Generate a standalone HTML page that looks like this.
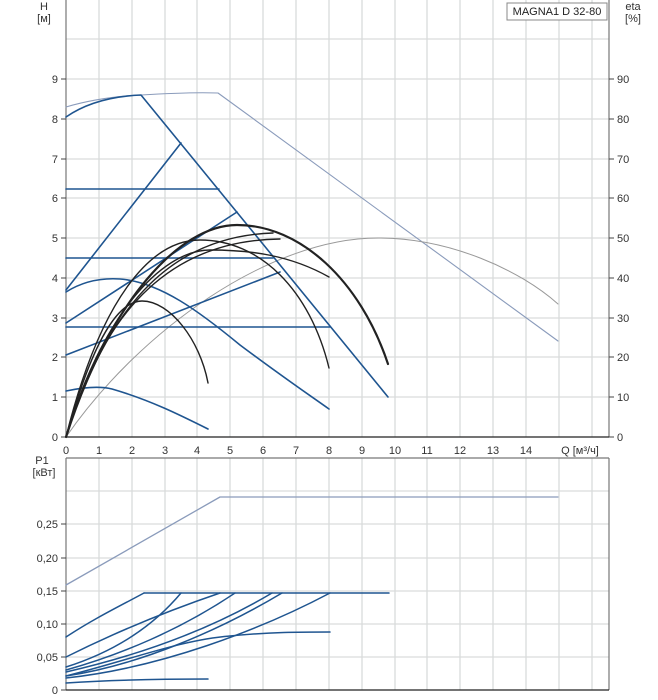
<!DOCTYPE html>
<html><head><meta charset="utf-8"><style>
body{margin:0;background:#fff}
svg{display:block;font-family:"Liberation Sans","DejaVu Sans",sans-serif}
</style></head><body>
<svg width="658" height="700" viewBox="0 0 658 700" xmlns="http://www.w3.org/2000/svg">
<g stroke="#d9dcdc" stroke-width="1.3" fill="none">
<!-- top grid verticals -->
<path d="M99,0V437M132,0V437M165,0V437M197,0V437M230,0V437M263,0V437M296,0V437M329,0V437M362,0V437M395,0V437M427,0V437M460,0V437M493,0V437M526,0V437M559,0V437M592,0V437"/>
<path d="M66,397H609M66,357H609M66,318H609M66,278H609M66,238H609M66,198H609M66,159H609M66,119H609M66,79H609M66,39H609"/>
<!-- bottom grid -->
<path d="M99,458V690M132,458V690M165,458V690M197,458V690M230,458V690M263,458V690M296,458V690M329,458V690M362,458V690M395,458V690M427,458V690M460,458V690M493,458V690M526,458V690M559,458V690M592,458V690"/>
<path d="M66,657H609M66,624H609M66,591H609M66,558H609M66,524H609M66,491H609"/>
</g>
<g stroke="#777" stroke-width="1.2" fill="none">
<path d="M66,0V437M609,0V437M66,458V690M609,458V690M66,458H609"/>
</g>
<path d="M66,437H609" stroke="#222" stroke-width="1.3"/>
<path d="M66,690H609" stroke="#222" stroke-width="1.3"/>
<g stroke="#444" stroke-width="1"><path d="M61,437H66M61,397H66M61,357H66M61,318H66M61,278H66M61,238H66M61,198H66M61,159H66M61,119H66M61,79H66M609,437H614M609,397H614M609,357H614M609,318H614M609,278H614M609,238H614M609,198H614M609,159H614M609,119H614M609,79H614M61,690H66M61,657H66M61,624H66M61,591H66M61,558H66M61,524H66"/></g>

<g font-size="11" fill="#333" text-anchor="end">
<text x="58" y="441">0</text><text x="58" y="401">1</text><text x="58" y="361">2</text><text x="58" y="322">3</text><text x="58" y="282">4</text><text x="58" y="242">5</text><text x="58" y="202">6</text><text x="58" y="163">7</text><text x="58" y="123">8</text><text x="58" y="83">9</text>
<text x="58" y="694">0</text><text x="58" y="661">0,05</text><text x="58" y="628">0,10</text><text x="58" y="595">0,15</text><text x="58" y="562">0,20</text><text x="58" y="528">0,25</text>
</g>
<g font-size="11" fill="#333" text-anchor="start">
<text x="617" y="441">0</text><text x="617" y="401">10</text><text x="617" y="361">20</text><text x="617" y="322">30</text><text x="617" y="282">40</text><text x="617" y="242">50</text><text x="617" y="202">60</text><text x="617" y="163">70</text><text x="617" y="123">80</text><text x="617" y="83">90</text>
</g>
<g font-size="11" fill="#333" text-anchor="middle">
<text x="66" y="454">0</text><text x="99" y="454">1</text><text x="132" y="454">2</text><text x="165" y="454">3</text><text x="197" y="454">4</text><text x="230" y="454">5</text><text x="263" y="454">6</text><text x="296" y="454">7</text><text x="329" y="454">8</text><text x="362" y="454">9</text><text x="395" y="454">10</text><text x="427" y="454">11</text><text x="460" y="454">12</text><text x="493" y="454">13</text><text x="526" y="454">14</text>
<text x="580" y="454">Q [м³/ч]</text>
<text x="44" y="10">H</text><text x="44" y="22">[м]</text>
<text x="633" y="10">eta</text><text x="633" y="22">[%]</text>
<text x="42" y="464">P1</text><text x="44" y="476">[кВт]</text>
</g>
<rect x="507" y="3" width="100" height="17" fill="#fff" stroke="#888"/>
<text x="557" y="15" font-size="11" fill="#222" text-anchor="middle">MAGNA1 D 32-80</text>

<!-- top blue -->
<g fill="none" stroke-linecap="round" stroke-linejoin="round">
<path d="M66,107 Q100,97 141,95 Q190,92 218,93 L558,341" stroke="#8a9bbb" stroke-width="1.1"/>
<path d="M66,437 C140,330 270,238 378,238 C450,238 520,270 558,304" stroke="#999" stroke-width="1"/>
<g stroke="#1f5590" stroke-width="1.6">
<path d="M66,117 Q95,97 141,95 L388,397"/>
<path d="M66,290 L181,143M66,323 L237,212M66,355 L280,272"/>
<path d="M66,189H219M66,258H273M66,327H330"/>
<path d="M66,292 C85,280 105,278 120,279 C160,282 200,312 240,345 C280,375 305,392 329,409"/>
<path d="M66,391 C85,387 100,386 112,389 C150,400 180,415 208,429"/>
</g>
<g stroke="#222" stroke-width="1.4">
<path d="M66,437 C90,350 115,301 142,301 C170,301 200,340 208,383"/>
<path d="M66,437 C100,300 150,240 200,240 C260,240 310,290 329,368"/>
<path d="M66,437 C110,300 175,236 273,233"/>
<path d="M66,437 C105,305 175,240 280,239"/>
<path d="M66,437 C100,320 160,250 210,250 C250,250 290,255 329,277"/>
<path d="M66,437 C110,300 180,225 237,225 C300,225 360,280 388,364" stroke-width="2.2"/>
</g>
</g>

<!-- bottom -->
<g fill="none" stroke-linecap="round" stroke-linejoin="round">
<path d="M66,585 L220,497 L558,497" stroke="#8a9bbb" stroke-width="1.3"/>
<g stroke="#1f5590" stroke-width="1.5">
<path d="M144,593H389"/>
<path d="M66,637 C95,618 120,606 144,593"/>
<path d="M66,657 C120,630 170,610 220,593"/>
<path d="M66,667 C110,653 150,630 181,593"/>
<path d="M66,670 C120,655 180,630 235,593"/>
<path d="M66,672 C140,655 210,630 272,593"/>
<path d="M66,676 C140,665 220,630 282,593"/>
<path d="M66,678 C160,668 260,630 330,593"/>
<path d="M66,676 C130,660 180,640 230,636 C270,632 300,632 330,632"/>
<path d="M66,683 C110,680 160,679 208,679"/>
</g>
</g>
</svg>
</body></html>
